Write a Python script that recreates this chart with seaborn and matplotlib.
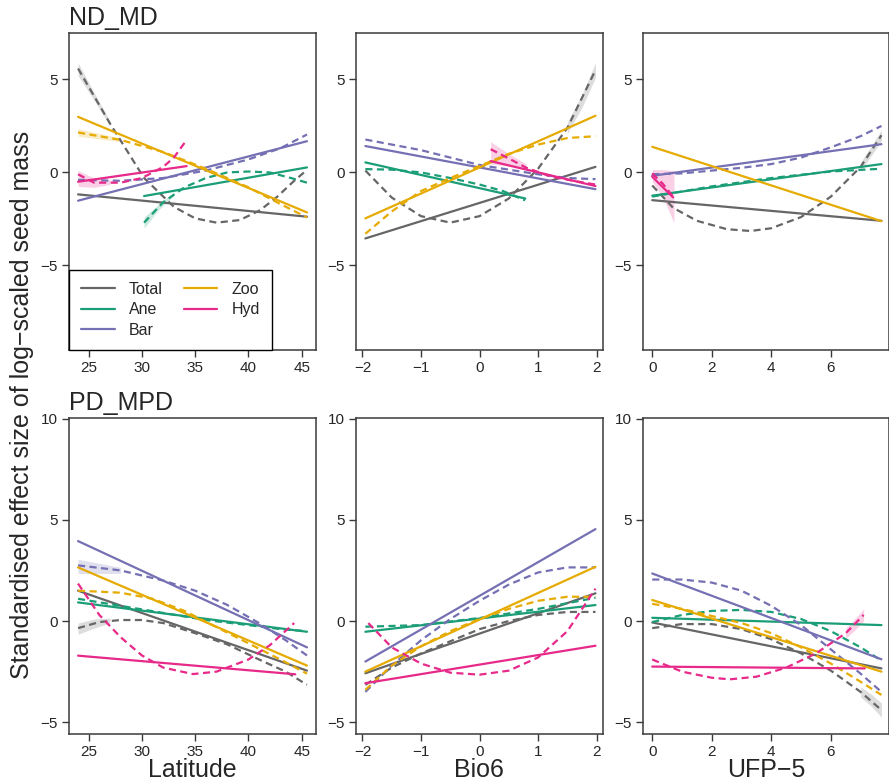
import numpy as np
import pandas as pd
import matplotlib
matplotlib.use('Agg')
import matplotlib.pyplot as plt
import seaborn as sns
from matplotlib.lines import Line2D

# -------------------------
# Data: (x, y) per group, linear fit and quadratic fit
# -------------------------
groups = ['Total', 'Ane', 'Bar', 'Zoo', 'Hyd']
colors = ['#666666', '#1B9E77', '#7570B3', '#E6AB02', '#E7298A']

# ND_MD ~ Latitude
nd_lat_lin = {
    'Total': ([24, 45.5], [-1.18, -2.38]),
    'Ane': ([30.2, 45.5], [-1.27, 0.27]),
    'Bar': ([24, 45.5], [-1.52, 1.68]),
    'Zoo': ([24, 45.5], [2.99, -2.15]),
    'Hyd': ([24, 34.2], [-0.5, 0.34]),
}
nd_lat_quad = {
    'Total': ([24, 27, 30.2, 33, 35, 37, 39.2, 41.1, 42.7, 44.2, 45.4],
              [5.59, 2.63, -0.3, -1.85, -2.47, -2.7, -2.56, -2.03, -1.31, -0.5, 0.09]),
    'Ane': ([30.2, 32, 34, 36, 38, 40, 42, 44, 45.5],
            [-2.7, -1.6, -0.8, -0.3, 0.0, 0.05, 0.0, -0.3, -0.55]),
    'Bar': ([24, 28, 32, 36, 40, 43, 45.5],
            [-0.4, -0.45, -0.3, 0.1, 0.7, 1.3, 2.04]),
    'Zoo': ([24, 28, 32, 36, 40, 43, 45.5],
            [2.15, 1.75, 1.1, 0.2, -0.8, -1.7, -2.42]),
    'Hyd': ([24, 25.5, 28, 30, 32, 33, 34.2],
            [-0.1, -0.55, -0.55, -0.3, 0.3, 0.8, 1.75]),
}

# ND_MD ~ Bio6
nd_bio_lin = {
    'Total': ([-1.95, 1.98], [-3.55, 0.3]),
    'Ane': ([-1.95, 0.78], [0.54, -1.4]),
    'Bar': ([-1.95, 1.98], [1.42, -0.9]),
    'Zoo': ([-1.95, 1.98], [-2.47, 3.05]),
    'Hyd': ([0.19, 1.98], [0.61, -0.73]),
}
nd_bio_quad = {
    'Total': ([-1.95, -1.5, -1, -0.5, 0, 0.5, 1, 1.5, 1.98],
              [0.1, -1.35, -2.35, -2.7, -2.35, -1.4, 0.2, 2.4, 5.5]),
    'Ane': ([-1.95, -1.5, -1, -0.5, 0, 0.4, 0.78],
            [0.18, 0.15, 0.0, -0.3, -0.65, -1.0, -1.5]),
    'Bar': ([-1.95, -1, 0, 1, 1.5, 1.98],
            [1.77, 1.2, 0.4, -0.1, -0.3, -0.36]),
    'Zoo': ([-1.95, -1.5, -1, -0.5, 0, 0.5, 1, 1.5, 1.98],
            [-3.3, -2.1, -1.0, -0.3, 0.35, 1.0, 1.5, 1.85, 1.95]),
    'Hyd': ([0.19, 0.5, 0.8, 1.2, 1.6, 1.98],
            [1.25, 0.75, 0.25, -0.2, -0.45, -0.65]),
}

# ND_MD ~ UFP-5
nd_ufp_lin = {
    'Total': ([0, 7.7], [-1.49, -2.6]),
    'Ane': ([0, 7.7], [-1.25, 0.45]),
    'Bar': ([0, 7.7], [-0.18, 1.52]),
    'Zoo': ([0, 7.7], [1.38, -2.62]),
    'Hyd': ([0, 0.7], [-0.23, -1.34]),
}
nd_ufp_quad = {
    'Total': ([0, 0.7, 1.5, 2.5, 3.3, 4, 5, 6, 7, 7.7],
              [-0.7, -1.9, -2.6, -3.05, -3.15, -3.0, -2.4, -1.3, 0.3, 2.0]),
    'Ane': ([0, 2, 4, 6, 7.7], [-1.3, -0.75, -0.3, 0.05, 0.2]),
    'Bar': ([0, 1, 2, 3, 4, 5, 6, 7, 7.7],
            [-0.1, -0.05, 0.1, 0.25, 0.45, 0.8, 1.35, 1.95, 2.5]),
    'Hyd': ([0, 0.35, 0.7], [-0.05, -0.6, -1.3]),
}

# PD_MPD ~ Latitude
pd_lat_lin = {
    'Total': ([24, 45.5], [1.5, -2.45]),
    'Ane': ([24, 45.5], [0.92, -0.53]),
    'Bar': ([24, 45.5], [3.95, -1.3]),
    'Zoo': ([24, 45.5], [2.65, -2.2]),
    'Hyd': ([24, 44.4], [-1.71, -2.63]),
}
pd_lat_quad = {
    'Total': ([24, 26, 28, 30, 32, 35, 38, 41, 43.5, 45.5],
              [-0.35, -0.05, 0.05, 0.05, -0.1, -0.6, -1.15, -1.9, -2.5, -3.15]),
    'Ane': ([24, 28, 32, 36, 40, 43, 45.5],
            [1.1, 0.75, 0.4, 0.05, -0.2, -0.4, -0.5]),
    'Bar': ([24, 28, 32, 35, 38, 41, 43.5, 45.5],
            [2.75, 2.5, 2.0, 1.5, 0.8, -0.1, -0.95, -1.7]),
    'Zoo': ([24, 28, 31, 34, 37, 40, 43, 45.5],
            [1.5, 1.4, 1.1, 0.5, -0.3, -1.1, -1.9, -2.6]),
    'Hyd': ([24, 26, 28, 30, 32, 34.8, 37, 40, 42, 44.3],
            [1.85, 0.3, -0.8, -1.7, -2.3, -2.62, -2.5, -1.9, -1.2, -0.1]),
}

# PD_MPD ~ Bio6
pd_bio_lin = {
    'Total': ([-1.95, 1.98], [-2.58, 1.37]),
    'Ane': ([-1.95, 1.98], [-0.53, 0.79]),
    'Bar': ([-1.95, 1.98], [-2.0, 4.54]),
    'Zoo': ([-1.95, 1.98], [-2.5, 2.68]),
    'Hyd': ([-1.95, 1.98], [-3.07, -1.22]),
}
pd_bio_quad = {
    'Total': ([-1.95, -1.5, -1, -0.5, 0, 0.5, 1, 1.5, 1.98],
              [-3.15, -2.3, -1.6, -1.0, -0.4, 0.0, 0.3, 0.45, 0.45]),
    'Ane': ([-1.95, -1, 0, 1, 1.98], [-0.28, -0.2, 0.15, 0.6, 1.15]),
    'Bar': ([-1.95, -1.5, -1, -0.5, 0, 0.5, 1, 1.5, 1.98],
            [-3.5, -2.2, -0.95, 0.1, 1.0, 1.8, 2.4, 2.65, 2.65]),
    'Zoo': ([-1.95, -1.5, -1, -0.5, 0, 0.5, 1, 1.5, 1.98],
            [-3.4, -2.2, -1.25, -0.5, 0.1, 0.6, 1.0, 1.2, 1.2]),
    'Hyd': ([-1.9, -1.5, -1, -0.5, 0, 0.5, 1, 1.5, 1.98],
            [-0.1, -1.3, -2.1, -2.55, -2.65, -2.45, -1.8, -0.5, 1.6]),
}

# PD_MPD ~ UFP-5
pd_ufp_lin = {
    'Total': ([0, 7.7], [-0.07, -2.34]),
    'Ane': ([0, 7.7], [0.16, -0.2]),
    'Bar': ([0, 7.7], [2.35, -1.89]),
    'Zoo': ([0, 7.7], [1.04, -2.5]),
    'Hyd': ([0, 7.14], [-2.25, -2.34]),
}
pd_ufp_quad = {
    'Total': ([0, 1, 2, 3, 4, 5, 6, 7, 7.7],
              [-0.35, -0.15, -0.15, -0.4, -0.9, -1.6, -2.45, -3.5, -4.4]),
    'Ane': ([0, 1, 2, 3, 4, 5, 6, 7, 7.7],
            [-0.05, 0.3, 0.5, 0.55, 0.45, 0.1, -0.5, -1.3, -1.95]),
    'Bar': ([0, 1, 2, 3, 4, 5, 6, 7, 7.7],
            [2.05, 2.05, 1.9, 1.5, 0.75, -0.2, -1.4, -2.6, -3.5]),
    'Zoo': ([0, 1, 2, 3, 4, 5, 6, 7, 7.7],
            [0.85, 0.6, 0.25, -0.1, -0.6, -1.3, -2.1, -3.0, -3.65]),
    'Hyd': ([0, 1, 2, 2.6, 3.5, 4.5, 5.5, 6.5, 7.1],
            [-1.9, -2.5, -2.8, -2.88, -2.75, -2.3, -1.6, -0.6, 0.3]),
}

# confidence bands that are wide enough to see: (row, col, group, x, lower, upper)
bands = [
    (0, 0, 'Total', [24, 25.5, 27], [5.2, 3.9, 2.5], [5.9, 4.3, 2.75]),
    (0, 0, 'Ane', [30.2, 31.5, 33], [-3.0, -2.05, -1.25], [-2.4, -1.75, -1.05]),
    (0, 0, 'Zoo', [24, 26, 28], [1.95, 1.8, 1.65], [2.35, 2.1, 1.85]),
    (0, 0, 'Hyd', [24, 25.5, 27], [-0.75, -0.8, -0.65], [0.1, -0.3, -0.4]),
    (0, 1, 'Hyd', [0.19, 0.5, 0.8], [0.45, 0.35, 0.15], [1.65, 1.0, 0.45]),
    (0, 1, 'Total', [1.5, 1.75, 1.98], [2.1, 3.5, 5.1], [2.7, 4.2, 5.9]),
    (0, 2, 'Hyd', [0, 0.35, 0.73], [-0.5, -1.3, -2.7], [0.15, 0.15, 0.1]),
    (0, 2, 'Total', [7, 7.35, 7.7], [0.05, 0.9, 1.7], [0.55, 1.4, 2.3]),
    (1, 0, 'Bar', [24, 26, 28], [2.35, 2.35, 2.35], [3.05, 2.85, 2.65]),
    (1, 0, 'Total', [24, 25.5, 27], [-0.65, -0.35, -0.1], [-0.1, 0.1, 0.15]),
    (1, 2, 'Total', [7, 7.35, 7.7], [-3.75, -4.2, -4.75], [-3.25, -3.6, -4.05]),
    (1, 2, 'Hyd', [6.5, 6.8, 7.1], [-0.85, -0.45, 0.0], [-0.35, 0.1, 0.6]),
]

row_titles = ['ND_MD', 'PD_MPD']
x_labels = ['Latitude', 'Bio6', 'UFP\u22125']
x_ticks = [[25, 30, 35, 40, 45], [-2, -1, 0, 1, 2], [0, 2, 4, 6]]
x_lims = [(23.15, 46.3), (-2.11, 2.1), (-0.31, 7.97)]
y_ticks = [[-5, 0, 5], [-5, 0, 5, 10]]
y_lims = [(-9.55, 7.5), (-5.58, 10.03)]

panels = [
    [(nd_lat_lin, nd_lat_quad), (nd_bio_lin, nd_bio_quad), (nd_ufp_lin, nd_ufp_quad)],
    [(pd_lat_lin, pd_lat_quad), (pd_bio_lin, pd_bio_quad), (pd_ufp_lin, pd_ufp_quad)],
]

# long table
rows = []
for r in range(2):
    for c in range(3):
        lin, quad = panels[r][c]
        for fit, d in (('Linear', lin), ('Quadratic', quad)):
            for g, (xs, ys) in d.items():
                for x, y in zip(xs, ys):
                    rows.append({'row': r, 'col': c, 'group': g, 'fit': fit, 'x': x, 'y': y})
df = pd.DataFrame(rows)

# -------------------------
# Figure
# -------------------------
sns.set_style('ticks')
plt.rcParams['font.family'] = ['Liberation Sans', 'DejaVu Sans']

W, H = 889, 782
fig = plt.figure(figsize=(W / 100, H / 100), dpi=100)
palette = dict(zip(groups, colors))

lefts = [69, 356, 643]
tops = [33, 418]
heights = [317, 316]
width = 246.5

for r in range(2):
    for c in range(3):
        ax = fig.add_axes([lefts[c] / W, 1 - (tops[r] + heights[r]) / H,
                           width / W, heights[r] / H])

        for br, bc, g, bx, lo, hi in bands:
            if br == r and bc == c:
                ax.fill_between(bx, lo, hi, color=palette[g], alpha=0.22, lw=0)

        sub = df[(df['row'] == r) & (df['col'] == c)]
        sns.lineplot(data=sub, x='x', y='y', hue='group', style='fit',
                     hue_order=groups, palette=palette,
                     style_order=['Linear', 'Quadratic'],
                     dashes={'Linear': '', 'Quadratic': (3.2, 2)},
                     estimator=None, sort=True, lw=1.6, legend=False, ax=ax)
        ax.set_xlim(*x_lims[c])
        ax.set_ylim(*y_lims[r])
        ax.set_xticks(x_ticks[c])
        ax.set_yticks(y_ticks[r])
        ax.set_xlabel('')
        ax.set_ylabel('')
        for s in ax.spines.values():
            s.set_color('#3a3a3a')
            s.set_linewidth(1.1)
        ax.tick_params(length=5, width=1, color='#3a3a3a', labelsize=11, pad=3)

        if r == 0 and c == 0:
            handles = [Line2D([], [], color=col, lw=1.6) for col in colors]
            leg = ax.legend(handles, groups, ncol=2, loc='lower left',
                            bbox_to_anchor=(0, 0), borderaxespad=0,
                            fancybox=False, edgecolor='black', framealpha=1,
                            fontsize=11.5, handlelength=2.1, columnspacing=1.3,
                            borderpad=0.75, labelspacing=0.35, handletextpad=0.9)
            leg.get_frame().set_linewidth(1.0)

        if r == 1:
            fig.text((lefts[c] + width / 2) / W, 1 - 770 / H, x_labels[c],
                     ha='center', va='center', fontsize=18)

for r in range(2):
    fig.text(lefts[0] / W, 1 - (tops[r] - 15) / H, row_titles[r],
             ha='left', va='center', fontsize=18)

fig.text(22 / W, 1 - 405 / H,
         'Standardised effect size of log\u2212scaled seed mass',
         rotation=90, ha='center', va='center', fontsize=18)

fig.savefig('out.png', dpi=100)
